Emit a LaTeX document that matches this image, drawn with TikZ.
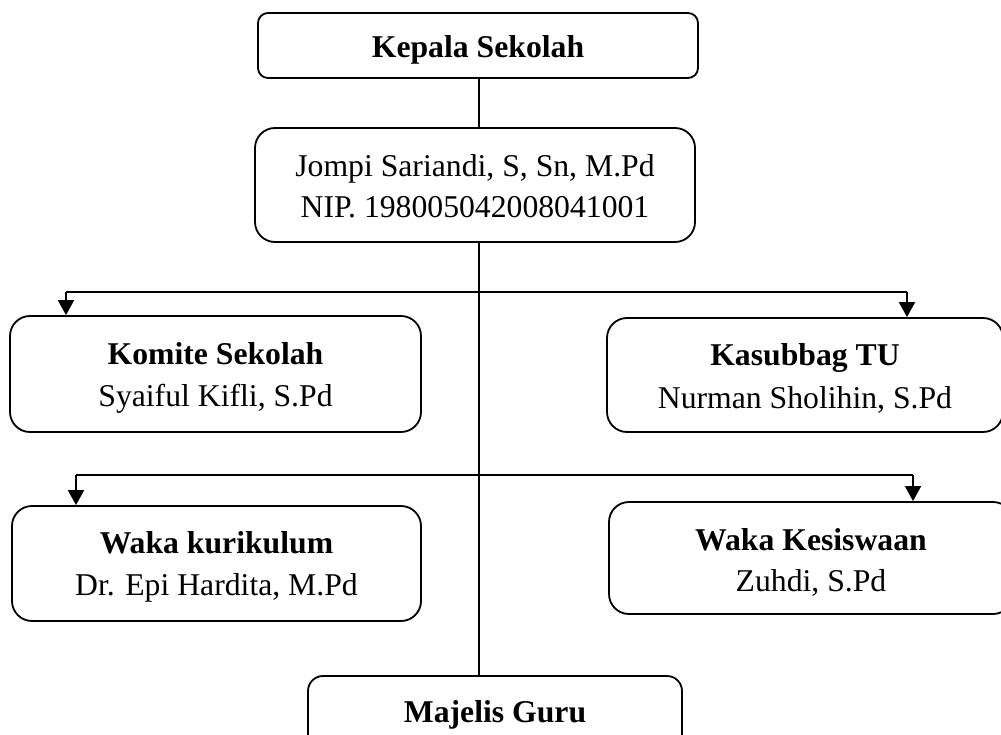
\documentclass[tikz,border=0pt]{standalone}
\usepackage{fontspec}
\setmainfont{Liberation Serif}
\usetikzlibrary{arrows.meta}
\begin{document}
\begin{tikzpicture}[x=1pt,y=-1pt,
  box/.style={draw, line width=1.8pt, rounded corners=#1, inner sep=0pt, align=center,
    font=\fontsize{31.7}{41.5}\selectfont},
  box/.default=20pt,
  conn/.style={line width=1.8pt},
  arr/.style={line width=1.8pt, -{Triangle[width=16pt,length=15pt]}}
]
\useasboundingbox (0,0) rectangle (1001,735);
\node[box=10pt, minimum width=440pt, minimum height=65pt, text height=25pt, text depth=0pt] (kepala) at (478,45.5) {\textbf{Kepala Sekolah}};
\node[box, minimum width=440pt, minimum height=114pt, text height=66pt, text depth=0pt] (jompi) at (475,185) {Jompi Sariandi, S, Sn, M.Pd\\NIP. 198005042008041001};
\node[box, minimum width=411pt, minimum height=116pt, text height=64pt, text depth=0pt] (komite) at (215.5,374) {\textbf{Komite Sekolah}\\Syaiful Kifli, S.Pd};
\node[box, minimum width=396pt, minimum height=114pt, text height=66pt, text depth=0pt, font=\fontsize{31.7}{43}\selectfont] (kasub) at (805,375) {\textbf{Kasubbag TU}\\Nurman Sholihin, S.Pd};
\node[box, minimum width=409pt, minimum height=115pt, text height=63pt, text depth=0pt] (kur) at (216.5,563.5) {\textbf{Waka kurikulum}\\Dr. Epi Hardita, M.Pd};
\node[box, minimum width=404pt, minimum height=112pt, text height=66pt, text depth=0pt, font=\fontsize{31.7}{40.5}\selectfont] (kes) at (811,558) {\textbf{Waka Kesiswaan}\\Zuhdi, S.Pd};
\node[box=15pt, minimum width=374pt, minimum height=78pt, text height=22pt, text depth=8pt] (majelis) at (495,715) {\textbf{Majelis Guru}};
\coordinate (sp) at (479,0);
\coordinate (a1) at (66,292);
\coordinate (k1) at (907,292);
\coordinate (a2) at (76,475);
\coordinate (k2) at (913,475);
\draw[conn] (kepala.south -| sp) -- (jompi.north -| sp);
\draw[conn] (jompi.south -| sp) -- (majelis.north -| sp);
\draw[conn] (a1) -- (k1);
\draw[arr] (a1) -- (a1 |- komite.north);
\draw[arr] (k1) -- (k1 |- kasub.north);
\draw[conn] (a2) -- (k2);
\draw[arr] (a2) -- (a2 |- kur.north);
\draw[arr] (k2) -- (k2 |- kes.north);
\end{tikzpicture}
\end{document}
